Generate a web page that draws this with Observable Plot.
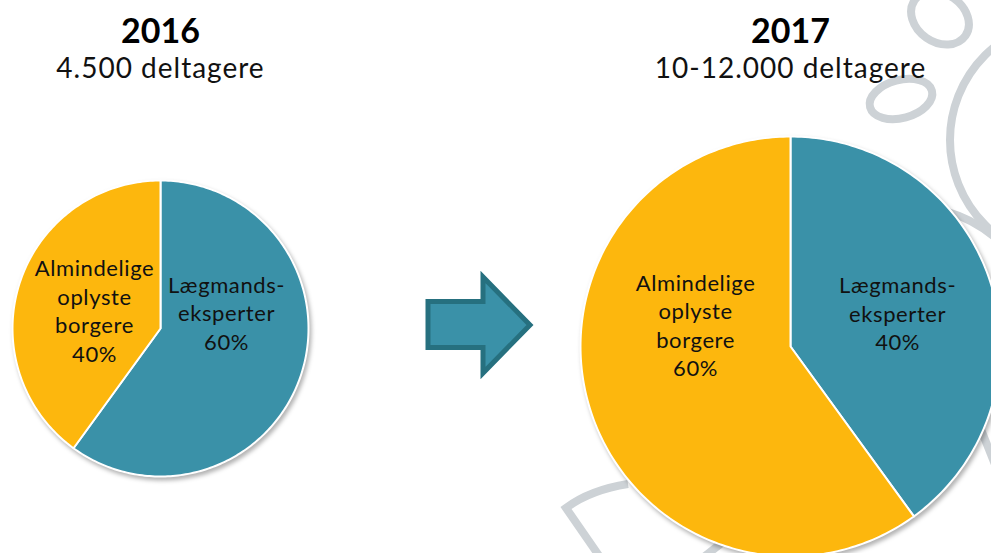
<!DOCTYPE html>
<html><head><meta charset="utf-8">
<script src="https://cdn.jsdelivr.net/npm/d3@7"></script>
<script src="https://cdn.jsdelivr.net/npm/@observablehq/plot@0.6"></script>
<style>
html,body{margin:0;padding:0;background:#fff;}
#chart{width:991px;height:553px;overflow:hidden;}
</style></head><body>
<div id="chart"></div>
<script>
// ---- data ----
const years = ["2016", "2017"];
const subtitles = ["4.500 deltagere", "10-12.000 deltagere"];
const categories = ["Lægmands-\neksperter", "Almindelige\noplyste\nborgere"];
const shares2016 = [60, 40];
const shares2017 = [40, 60];
const colors = ["#3A91A8", "#FDB70D"];

// ---- layout ----
const W = 991, H = 553;
const layout = [
  {cx: 160, cy: 328, r: 148, label: [[0.446, -0.111], [-0.446, -0.125]]},
  {cx: 790, cy: 346, r: 210, label: [[0.51, -0.162], [-0.452, -0.105]]}
];
const titleY = 42, subY = 77;
const font = "Lato, 'Open Sans', sans-serif";

const sharesByYear = [shares2016, shares2017];
const pieGen = d3.pie().sort(null).value(d => d);

const slicePts = [], labels = [], titles = [];
years.forEach((yr, i) => {
  const L = layout[i];
  const arcs = pieGen(sharesByYear[i]);
  arcs.forEach((a, j) => {
    const key = yr + "-" + j;
    slicePts.push({key, cat: categories[j], x: L.cx, y: L.cy});
    const n = Math.max(2, Math.ceil((a.endAngle - a.startAngle) / (Math.PI / 180)));
    for (let k = 0; k <= n; k++) {
      const t = a.startAngle + (a.endAngle - a.startAngle) * k / n;
      slicePts.push({key, cat: categories[j], x: L.cx + L.r * Math.sin(t), y: L.cy - L.r * Math.cos(t)});
    }
    labels.push({
      text: categories[j] + "\n" + sharesByYear[i][j] + "%",
      x: L.cx + L.label[j][0] * L.r,
      y: L.cy + L.label[j][1] * L.r
    });
  });
  titles.push({year: yr, sub: subtitles[i], x: L.cx});
});

const svg = Plot.plot({
  width: W, height: H,
  margin: 0,
  style: {background: "transparent", fontFamily: font},
  x: {domain: [0, W], range: [0, W], axis: null},
  y: {domain: [0, H], range: [0, H], axis: null},
  color: {domain: categories, range: colors},
  marks: [
    Plot.line(slicePts, {x: "x", y: "y", z: "key", fill: "cat", stroke: "white", strokeWidth: 2, curve: "linear-closed"}),
    Plot.text(labels, {x: "x", y: "y", text: "text", fontSize: 22, lineHeight: 1.3, lineAnchor: "middle", fill: "#111", fontFamily: font, className: "lbl"}),
    Plot.text(titles, {x: "x", y: () => titleY, text: "year", fontSize: 34, fontWeight: "bold", lineAnchor: "bottom", fill: "#000", fontFamily: font}),
    Plot.text(titles, {x: "x", y: () => subY, text: "sub", fontSize: 28, lineAnchor: "bottom", fill: "#111", fontFamily: font, className: "sub"})
  ]
});

const s = d3.select(svg);
// letter spacing to mimic the wide geometric typeface
s.selectAll('g[aria-label="text"]').each(function(_, i) {
  if (i === 0) d3.select(this).style("letter-spacing", "0.6px");
  if (i === 2) d3.select(this).style("letter-spacing", "1px");
});
s.selectAll('g[aria-label="line"]').style("filter", "drop-shadow(2px 3px 2px rgba(0,0,0,0.3))");

// decorative background shapes and arrow (not data)
const deco = s.insert("g", ":first-child").attr("fill", "none").attr("stroke", "#CDD2D6").attr("stroke-width", 8);
deco.append("ellipse").attr("cx", 940).attr("cy", 18).attr("rx", 31).attr("ry", 24).attr("transform", "rotate(35 940 18)");
deco.append("ellipse").attr("cx", 901).attr("cy", 99).attr("rx", 32).attr("ry", 19).attr("transform", "rotate(-15 901 99)");
deco.append("circle").attr("cx", 1070).attr("cy", 140).attr("r", 120);
deco.append("path").attr("d", "M948 212 Q975 220 998 240");
deco.append("path").attr("d", "M974 412 L998 472");
deco.append("path").attr("d", "M628 484 Q590 490 566 508 L602 560");
deco.append("path").attr("d", "M700 560 L728 538");
s.append("path")
  .attr("d", "M428 301.5 L483 301.5 L483 277 L530 325 L483 373 L483 347.5 L428 347.5 Z")
  .attr("fill", "#3A91A8").attr("stroke", "#26707F").attr("stroke-width", 5).attr("stroke-linejoin", "miter");

document.getElementById("chart").appendChild(svg);
</script>
</body></html>
